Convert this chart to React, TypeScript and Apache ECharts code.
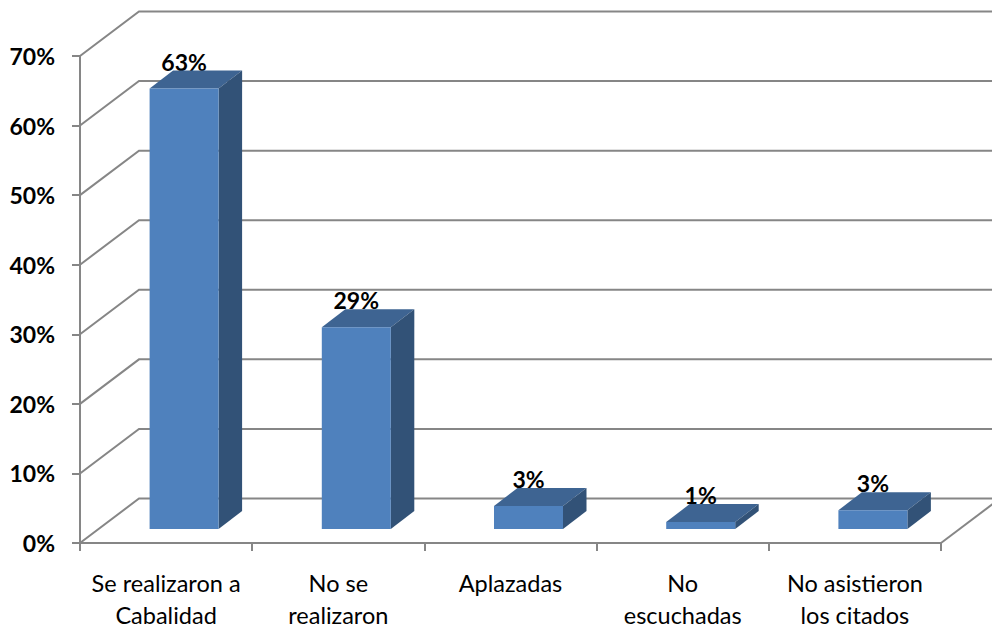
import React, { useEffect, useRef } from "react";
import * as echarts from "echarts";

const categories = [
  "Se realizaron a\nCabalidad",
  "No se\nrealizaron",
  "Aplazadas",
  "No\nescuchadas",
  "No asistieron\nlos citados",
];
const values = [63.3, 29, 3.3, 1, 2.7];
const valueLabels = ["63%", "29%", "3%", "1%", "3%"];
const gridTicks = [0, 10, 20, 30, 40, 50, 60, 70];

const FONT = "Lato, 'Open Sans', sans-serif";
const LINE = "#868686";
const WALL_DX = 59;
const WALL_DY = 44.5;
const BAR_W = 69;
const BAR_OX = 18;
const BAR_OY = 14;
const DEPTH_X = 23.5;
const DEPTH_Y = 18;

export default function App() {
  const ref = useRef<HTMLDivElement>(null);
  useEffect(() => {
    const chart = echarts.init(ref.current!, undefined, { renderer: "svg" });
    chart.setOption({
      animation: false,
      backgroundColor: "#ffffff",
      grid: { left: 80, top: 56, width: 861, height: 487 },
      xAxis: {
        type: "category",
        data: categories,
        boundaryGap: true,
        axisLine: { show: true, lineStyle: { color: LINE, width: 2 } },
        axisTick: { show: true, length: 8, alignWithLabel: false, lineStyle: { color: LINE, width: 2 } },
        axisLabel: { interval: 0, color: "#000", fontFamily: FONT, fontSize: 23.5, lineHeight: 32, margin: 24 },
      },
      yAxis: {
        type: "value",
        min: 0,
        max: 70,
        interval: 10,
        splitLine: { show: false },
        axisLine: { show: true, lineStyle: { color: LINE, width: 2 } },
        axisTick: { show: true, length: 8, lineStyle: { color: LINE, width: 2 } },
        axisLabel: {
          color: "#000",
          fontFamily: FONT,
          fontSize: 23,
          fontWeight: "bold",
          margin: 25,
          formatter: "{value}%",
        },
      },
      series: [
        {
          type: "custom",
          silent: true,
          z: 1,
          clip: false,
          data: gridTicks.map((v) => [0, v]),
          encode: { x: 0, y: 1 },
          renderItem: (params: any, api: any) => {
            const y = api.coord([0, api.value(1)])[1];
            const x0 = params.coordSys.x;
            const x1 = x0 + params.coordSys.width;
            const style = { stroke: LINE, lineWidth: 2, fill: "none" };
            const children: any[] = [
              {
                type: "polyline",
                shape: { points: [[x0, y], [x0 + WALL_DX, y - WALL_DY], [x1 + WALL_DX, y - WALL_DY]] },
                style,
              },
            ];
            if (api.value(1) === 0) {
              children.push({
                type: "line",
                shape: { x1, y1: y, x2: x1 + WALL_DX, y2: y - WALL_DY },
                style,
              });
            }
            return { type: "group", children };
          },
        },
        {
          type: "custom",
          silent: true,
          z: 2,
          clip: false,
          data: values.map((v, i) => [i, v]),
          encode: { x: 0, y: 1 },
          renderItem: (params: any, api: any) => {
            const i = api.value(0);
            const top = api.coord([i, api.value(1)]);
            const base = api.coord([i, 0]);
            const l = top[0] + BAR_OX - BAR_W / 2;
            const r = l + BAR_W;
            const t = top[1] - BAR_OY;
            const b = base[1] - BAR_OY;
            return {
              type: "group",
              children: [
                {
                  type: "text",
                  z2: 1,
                  style: {
                    x: (l + r) / 2,
                    y: t - 27,
                    text: valueLabels[params.dataIndex],
                    fill: "#000",
                    font: `bold 23px ${FONT}`,
                    align: "center",
                    verticalAlign: "middle",
                  },
                },
                {
                  type: "polygon",
                  z2: 2,
                  shape: { points: [[l, t], [r, t], [r + DEPTH_X, t - DEPTH_Y], [l + DEPTH_X, t - DEPTH_Y]] },
                  style: { fill: "#3e6492" },
                },
                {
                  type: "polygon",
                  z2: 2,
                  shape: { points: [[r, t], [r + DEPTH_X, t - DEPTH_Y], [r + DEPTH_X, b - DEPTH_Y], [r, b]] },
                  style: { fill: "#325277" },
                },
                {
                  type: "rect",
                  z2: 3,
                  shape: { x: l, y: t, width: BAR_W, height: b - t },
                  style: { fill: "#4f81bd" },
                },
              ],
            };
          },
        },
      ],
    });
    return () => chart.dispose();
  }, []);
  return (
    <div
      ref={ref}
      style={{ position: "absolute", left: 0, top: 0, width: 992, height: 632 }}
    />
  );
}
